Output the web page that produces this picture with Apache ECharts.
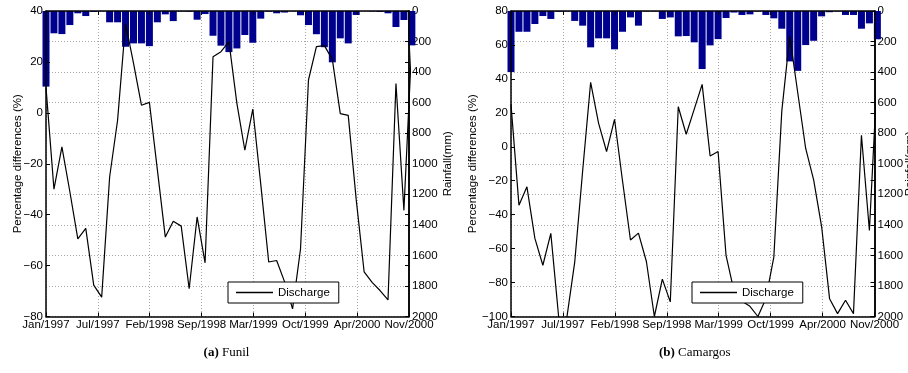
<!DOCTYPE html>
<html>
<head>
<meta charset="utf-8">
<script src="https://cdn.jsdelivr.net/npm/echarts@6/dist/echarts.min.js"></script>
<style>
html,body{margin:0;padding:0;background:#fff;}
#chart{width:908px;height:373px;}
</style>
</head>
<body>
<div id="chart"></div>
<script>
// x tick labels (uniformly spaced ticks over the monthly series)
const xTickLabels = ['Jan/1997','Jul/1997','Feb/1998','Sep/1998','Mar/1999','Oct/1999','Apr/2000','Nov/2000'];
const TICK_STEP = 6.52;           // months between x ticks
const X_MAX = TICK_STEP * 7;      // last tick (Nov/2000)

// Funil (monthly, Jan/1997 ... Nov/2000)
const funilDischarge = [10, -30, -13.4, -31, -49.5, -45.4, -67.7, -72.4, -25.2, -2.9, 35.1, 19.5, 3, 4.1, -22.3, -48.8, -42.6, -44.5, -69.1, -40.9, -58.9, 22, 24, 28, 3.7, -14.7, 1.5, -28, -58.6, -58, -66.4, -77, -53.5, 12.9, 26, 26.4, 21, -0.3, -1, -34, -62.5, -66.6, -69.8, -73.5, 11.5, -38.3, 27.8];
const funilRain = [495, 146, 151, 92, 15, 33, 6, 2, 74, 74, 234, 212, 212, 230, 74, 22, 66, 3, 5, 57, 20, 162, 227, 269, 245, 157, 208, 50, 4, 15, 10, 2, 28, 92, 152, 237, 336, 179, 212, 26, 1, 3, 6, 15, 105, 59, 225];

// Camargos
const camDischarge = [25, -34.4, -23.6, -54, -69.8, -51, -101, -101, -68, -14, 38, 13.8, -2.8, 16.2, -20, -54.9, -50.9, -67.6, -100, -78, -91.4, 23.6, 7.4, 22, 36.8, -5.4, -2.8, -64, -85, -91, -94, -100, -89.5, -65, 21, 65.2, 32, -1, -19.5, -47, -89.5, -98.3, -90.4, -98.3, 6.8, -49.3, 44];
const camRain = [400, 136, 136, 85, 33, 52, 5, 3, 65, 96, 238, 179, 179, 251, 136, 42, 96, 3, 3, 52, 42, 166, 164, 205, 380, 225, 184, 46, 10, 26, 22, 3, 26, 48, 116, 330, 392, 223, 195, 35, 8, 3, 26, 26, 116, 81, 185];

const captions = ['Funil', 'Camargos'];
const captionTags = ['(a)', '(b)'];

const FONT = '"Liberation Sans", Arial, Helvetica, sans-serif';
const SERIF = '"Liberation Serif", "Times New Roman", serif';
const FS = 11.5;
const minus = v => String(v).replace('-', '\u2212');

const panels = [
  {left: 46, width: 363, yMin: -80, yMax: 40, discharge: funilDischarge, rain: funilRain, nameGapL: 22, nameGapR: 33, legendLeft: 228, capShift: -6},
  {left: 511, width: 363.5, yMin: -100, yMax: 80, discharge: camDischarge, rain: camRain, nameGapL: 32, nameGapR: 29, legendLeft: 692, capShift: -3}
];

const grid = [], xAxis = [], yAxis = [], series = [], legend = [], title = [];

panels.forEach((p, gi) => {
  grid.push({left: p.left, top: 11, width: p.width, height: 305.5, containLabel: false, outerBoundsMode: 'none', show: false});
  const baseX = {
    type: 'value', gridIndex: gi, min: 0, max: X_MAX, interval: TICK_STEP
  };
  // bottom x axis with labels & vertical grid
  xAxis.push(Object.assign({}, baseX, {
    position: 'bottom', z: 0,
    axisLine: {show: true, onZero: false, lineStyle: {color: '#000', width: 1.5}},
    axisTick: {show: true, inside: true, length: 4, lineStyle: {color: '#000'}},
    axisLabel: {show: true, color: '#000', fontSize: FS, fontFamily: FONT, margin: 2,
      formatter: v => xTickLabels[Math.round(v / TICK_STEP)] || ''},
    splitLine: {show: true, lineStyle: {type: [1, 2], color: '#a8a8a8', width: 1}}
  }));
  // top frame axis
  xAxis.push(Object.assign({}, baseX, {
    position: 'top', z: 10,
    axisLine: {show: true, onZero: false, lineStyle: {color: '#000', width: 1.5}},
    axisTick: {show: true, inside: true, length: 4, lineStyle: {color: '#000'}},
    axisLabel: {show: false}, splitLine: {show: false}
  }));
  const yIdx = yAxis.length;
  // left percentage axis
  yAxis.push({
    type: 'value', gridIndex: gi, position: 'left', min: p.yMin, max: p.yMax, interval: 20, z: 10,
    name: 'Percentage differences (%)', nameLocation: 'middle', nameRotate: 90, nameGap: p.nameGapL,
    nameMoveOverlap: false,
    nameTextStyle: {color: '#000', fontSize: FS, fontFamily: FONT},
    axisLine: {show: true, onZero: false, lineStyle: {color: '#000', width: 1.5}},
    axisTick: {show: true, inside: true, length: 4, lineStyle: {color: '#000'}},
    axisLabel: {color: '#000', fontSize: FS, fontFamily: FONT, margin: 3, formatter: minus},
    splitLine: {show: false}
  });
  // right rainfall axis (inverted)
  yAxis.push({
    type: 'value', gridIndex: gi, position: 'right', min: 0, max: 2000, interval: 200, inverse: true, z: 0,
    name: 'Rainfall(mm)', nameLocation: 'middle', nameRotate: 90, nameGap: p.nameGapR,
    nameMoveOverlap: false,
    nameTextStyle: {color: '#000', fontSize: FS, fontFamily: FONT},
    axisLine: {show: true, onZero: false, lineStyle: {color: '#000', width: 1.5}},
    axisTick: {show: true, inside: true, length: 4, lineStyle: {color: '#000'}},
    axisLabel: {color: '#000', fontSize: FS, fontFamily: FONT, margin: 3, formatter: v => String(v)},
    splitLine: {show: true, lineStyle: {type: [1, 2], color: '#a8a8a8', width: 1}}
  });
  // right frame mirror of the percentage axis
  yAxis.push({
    type: 'value', gridIndex: gi, position: 'right', min: p.yMin, max: p.yMax, interval: 20, z: 10,
    axisLine: {show: true, onZero: false, lineStyle: {color: '#000', width: 1.5}},
    axisTick: {show: true, inside: true, length: 4, lineStyle: {color: '#000'}},
    axisLabel: {show: false}, splitLine: {show: false}
  });

  series.push({
    name: 'Rainfall', type: 'bar', xAxisIndex: gi * 2, yAxisIndex: yIdx + 1,
    data: p.rain.map((v, i) => [i, v]),
    barWidth: 7, clip: true, z: 2,
    itemStyle: {color: '#00008f'}
  });
  series.push({
    name: 'Discharge', type: 'line', xAxisIndex: gi * 2, yAxisIndex: yIdx,
    data: p.discharge.map((v, i) => [i, v]),
    symbol: 'none', showSymbol: false, clip: true, z: 3,
    lineStyle: {color: '#000', width: 1.2}, itemStyle: {color: '#000'}
  });

  legend.push({
    data: [{name: 'Discharge', icon: 'rect'}], left: p.legendLeft, top: 282, orient: 'horizontal',
    itemWidth: 37, itemHeight: 1.3, padding: [4, 9, 4, 8],
    itemStyle: {color: '#000', borderWidth: 0},
    backgroundColor: '#fff', borderColor: '#000', borderWidth: 1, borderRadius: 0,
    textStyle: {color: '#000', fontSize: FS, fontFamily: FONT, lineHeight: 13},
    selectedMode: false
  });

  title.push({
    text: '{b|' + captionTags[gi] + '} ' + captions[gi],
    left: p.left + p.width / 2 + p.capShift, top: 341, textAlign: 'center',
    textStyle: {color: '#000', fontSize: 13, fontWeight: 'normal', fontFamily: SERIF,
      rich: {b: {color: '#000', fontSize: 13, fontWeight: 'bold', fontFamily: SERIF}}}
  });
});

const chart = echarts.init(document.getElementById('chart'), null, {renderer: 'canvas'});
chart.setOption({
  animation: false,
  backgroundColor: '#fff',
  title, grid, xAxis, yAxis, series, legend
});
</script>
</body>
</html>
